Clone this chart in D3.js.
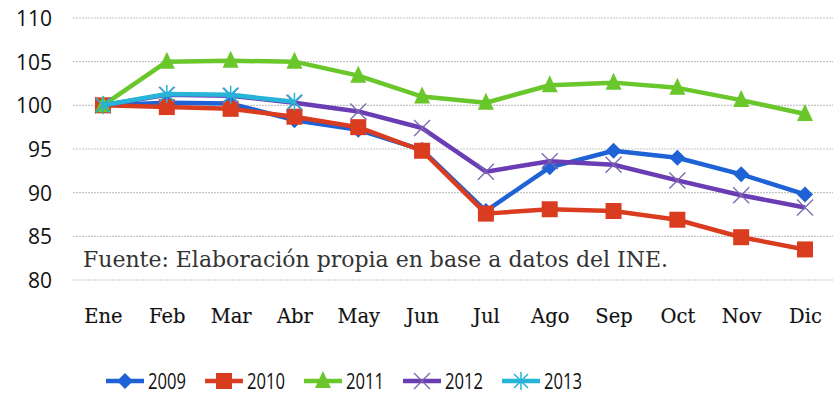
<!DOCTYPE html>
<html><head><meta charset="utf-8">
<script src="https://cdn.jsdelivr.net/npm/d3@7"></script>
<style>body{margin:0;background:#fff}svg{display:block}</style>
</head><body>
<script>
const months = ["Ene","Feb","Mar","Abr","May","Jun","Jul","Ago","Sep","Oct","Nov","Dic"];
const yTicks = [80,85,90,95,100,105,110];
const s2009 = [100,100.3,100.2,98.3,97.2,94.9,87.9,92.9,94.8,94.0,92.1,89.8];
const s2010 = [100,99.8,99.6,98.7,97.5,94.8,87.6,88.1,87.9,86.9,84.9,83.5];
const s2011 = [100,105.0,105.1,105.0,103.4,101.0,100.3,102.3,102.6,102.0,100.6,99.0];
const s2012 = [100,101.2,101.1,100.3,99.3,97.4,92.4,93.6,93.2,91.4,89.7,88.3];
const s2013 = [100,101.3,101.2,100.4];
const seriesNames = ["2009","2010","2011","2012","2013"];

const series = [
  {name:"2009", values:s2009, color:"#1f62d6", marker:"diamond"},
  {name:"2010", values:s2010, color:"#d93c1f", marker:"square"},
  {name:"2011", values:s2011, color:"#69c62b", marker:"triangle"},
  {name:"2012", values:s2012, color:"#6a3db5", marker:"x"},
  {name:"2013", values:s2013, color:"#26b4d8", marker:"star"}
];

const W=833,H=394;
const svg=d3.select("body").append("svg").attr("width",W).attr("height",H);
const x=d3.scalePoint().domain(months).range([103,805]);
const y=d3.scaleLinear().domain([80,110]).range([280,18]);

// gridlines
svg.append("g").selectAll("line").data(yTicks).join("line")
  .attr("x1",73).attr("x2",833).attr("y1",d=>y(d)).attr("y2",d=>y(d))
  .attr("stroke","#c4c4c4").attr("stroke-width",1.2).attr("stroke-dasharray","2,1");

// y axis
const yAxis=svg.append("g").attr("transform","translate(52,0)")
  .call(d3.axisLeft(y).tickValues(yTicks).tickSize(0).tickPadding(0));
yAxis.select(".domain").remove();
yAxis.selectAll("text").attr("font-family","'Open Sans',sans-serif").attr("font-size",21).attr("fill","#111").attr("dy","0.35em");

// x axis
const xAxis=svg.append("g").attr("transform","translate(0,309)")
  .call(d3.axisBottom(x).tickSize(0).tickPadding(0));
xAxis.select(".domain").remove();
xAxis.selectAll("text").attr("font-family","'DejaVu Serif',serif").attr("font-size",19.5).attr("fill","#111")
  .attr("stroke","#111").attr("stroke-width",0.15);

// source
svg.append("text").attr("x",83).attr("y",267).text("Fuente: Elaboración propia en base a datos del INE.")
  .attr("font-family","'DejaVu Serif',serif").attr("font-size",22.5).attr("fill","#333")
  .attr("textLength",585).attr("lengthAdjust","spacingAndGlyphs");

function drawMarker(g,type,color,cx,cy){
  if(type==="diamond"){
    g.append("path").attr("d",`M${cx},${cy-8}L${cx+8},${cy}L${cx},${cy+8}L${cx-8},${cy}Z`).attr("fill",color);
  }else if(type==="square"){
    g.append("rect").attr("x",cx-8).attr("y",cy-8).attr("width",16).attr("height",16).attr("fill",color);
  }else if(type==="triangle"){
    g.append("path").attr("d",`M${cx},${cy-10}L${cx+8},${cy+7}L${cx-8},${cy+7}Z`).attr("fill",color);
  }else if(type==="x"){
    g.append("path").attr("d",`M${cx-8},${cy-8}L${cx+8},${cy+8}M${cx-8},${cy+8}L${cx+8},${cy-8}`).attr("stroke","#7a68b0").attr("stroke-width",1.3);
  }else if(type==="star"){
    g.append("path").attr("d",`M${cx-7},${cy-7}L${cx+7},${cy+7}M${cx-7},${cy+7}L${cx+7},${cy-7}M${cx},${cy-9}L${cx},${cy+9}`).attr("stroke",color).attr("stroke-width",1.5);
  }
}

const line=d3.line().x((d,i)=>x(months[i])).y(d=>y(d));
series.forEach(s=>{
  const g=svg.append("g");
  g.append("path").datum(s.values).attr("d",line).attr("fill","none").attr("stroke",s.color).attr("stroke-width",4.5).attr("stroke-linejoin","round");
  s.values.forEach((v,i)=>drawMarker(g,s.marker,s.color,x(months[i]),y(v)));
});

// legend
const legX=[106,205,304,403,502];
series.forEach((s,i)=>{
  const g=svg.append("g");
  const lx=legX[i], ly=381;
  g.append("line").attr("x1",lx).attr("x2",lx+38).attr("y1",ly).attr("y2",ly).attr("stroke",s.color).attr("stroke-width",4.5);
  drawMarker(g,s.marker,s.color,lx+19,ly);
  g.append("text").attr("x",lx+42).attr("y",ly).attr("dy","0.36em").text(s.name)
    .attr("font-family","'Open Sans',sans-serif").attr("font-size",22).attr("fill","#111")
    .attr("textLength",38).attr("lengthAdjust","spacingAndGlyphs");
});
</script>
</body></html>
